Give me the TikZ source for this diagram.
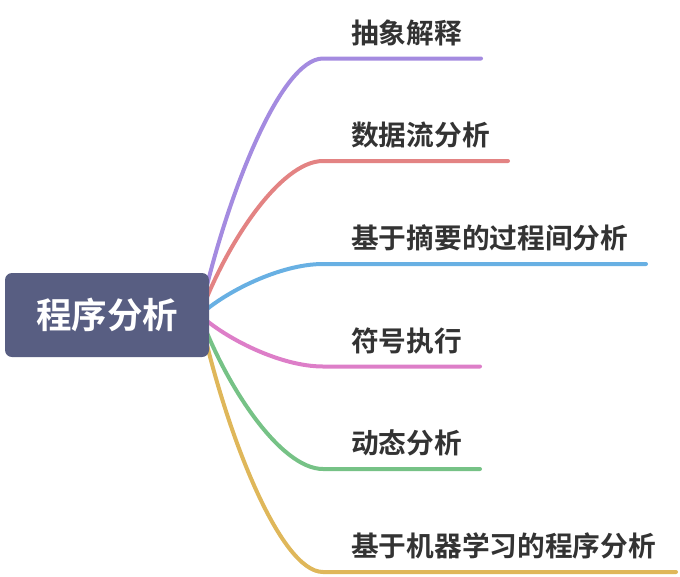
\documentclass[tikz,border=0pt]{standalone}
\usepackage{fontspec}
\newfontfamily\cjk{Noto Sans CJK SC Bold}
\definecolor{rootfill}{RGB}{88,94,130}
\definecolor{txt}{RGB}{51,51,51}
\definecolor{cPurple}{RGB}{164,139,224}
\definecolor{cRed}{RGB}{227,131,131}
\definecolor{cBlue}{RGB}{104,176,227}
\definecolor{cPink}{RGB}{221,126,200}
\definecolor{cGreen}{RGB}{118,194,134}
\definecolor{cYellow}{RGB}{223,183,90}
\begin{document}
\begin{tikzpicture}[x=1pt,y=-1pt,
  branch/.style={line width=4pt,line cap=round},
  lab/.style={anchor=west,inner sep=0pt,text=txt,font=\cjk\fontsize{27.7}{30}\selectfont},
  rootbox/.style={fill=rootfill,rounded corners=7pt,minimum width=204pt,minimum height=84pt,inner sep=0pt,text=white,font=\cjk\fontsize{35.5}{40}\selectfont}]
\useasboundingbox (0,0) rectangle (680,576);
\coordinate (s) at (200,315);
\coordinate (k1) at (323,58.5);  \coordinate (e1) at (481,58.5);
\coordinate (k2) at (323,161);   \coordinate (e2) at (508,161);
\coordinate (k3) at (323,264);   \coordinate (e3) at (646,264);
\coordinate (k4) at (323,366.5); \coordinate (e4) at (480,366.5);
\coordinate (k5) at (323,469);   \coordinate (e5) at (480,469);
\coordinate (k6) at (323,572);   \coordinate (e6) at (676,572);
\draw[branch,cPurple] (s) .. controls (225,200) and (280,58.5) .. (k1) -- (e1);
\draw[branch,cRed] (s) .. controls (225,246) and (280,161) .. (k2) -- (e2);
\draw[branch,cBlue] (s) .. controls (225,292) and (280,264) .. (k3) -- (e3);
\draw[branch,cPink] (s) .. controls (225,338) and (280,366.5) .. (k4) -- (e4);
\draw[branch,cGreen] (s) .. controls (225,384) and (280,469) .. (k5) -- (e5);
\draw[branch,cYellow] (s) .. controls (225,431) and (280,572) .. (k6) -- (e6);
\node[rootbox] (root) at (107,315) {程序分析};
\node[lab] (t1) at (351,32.5) {抽象解释};
\node[lab] (t2) at (351,135) {数据流分析};
\node[lab] (t3) at (351,238) {基于摘要的过程间分析};
\node[lab] (t4) at (351,340.5) {符号执行};
\node[lab] (t5) at (351,443) {动态分析};
\node[lab] (t6) at (351,546) {基于机器学习的程序分析};
\end{tikzpicture}
\end{document}
